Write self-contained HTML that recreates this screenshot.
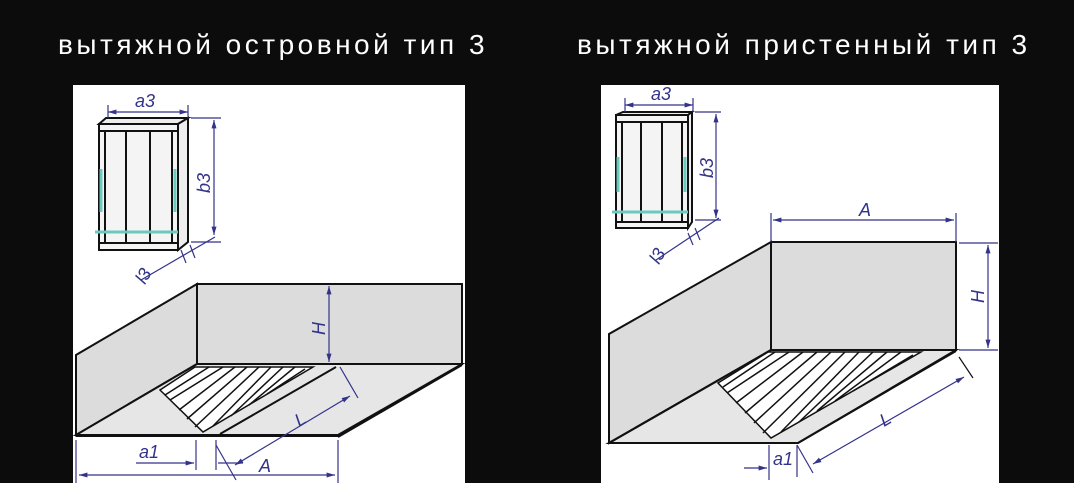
<!DOCTYPE html>
<html><head><meta charset="utf-8"><style>
body{margin:0;width:1074px;height:483px;background:#0c0c0c;overflow:hidden;position:relative;font-family:"Liberation Sans",sans-serif}
.t{position:absolute;top:29px;color:#fff;font-size:28px;letter-spacing:3.5px;white-space:nowrap}
svg{position:absolute;background:#fff}
.k{stroke:#111;fill:none;stroke-width:2}
.f{fill:#dcdcdc;stroke:#111;stroke-width:2}
.b{stroke:#33338a;fill:none;stroke-width:1.2}
.bt{fill:#33338a;font-family:"Liberation Sans",sans-serif;font-style:italic;font-size:18px}
.c{stroke:#6cc9c0;stroke-width:3;fill:none}
</style></head><body>
<div class="t" style="left:58px">вытяжной островной тип 3</div>
<div class="t" style="left:577px">вытяжной пристенный тип 3</div>

<svg style="left:73px;top:85px" width="392" height="398" viewBox="0 0 392 398">
<defs><marker id="a" viewBox="0 0 10 10" refX="10" refY="5" markerWidth="7" markerHeight="7" orient="auto-start-reverse"><path d="M0,2L10,5L0,8z" fill="#33338a"/></marker></defs>
<polygon class="f" points="26,39 33,33 115,33 105,39" style="fill:#eee"/>
<polygon class="f" points="105,39 115,33 115,157 105,165" style="fill:#eee"/>
<rect class="k" x="26" y="39" width="79" height="126" style="fill:#f4f4f4"/>
<line class="k" x1="26" y1="46" x2="105" y2="46"/><line class="k" x1="26" y1="158" x2="105" y2="158"/>
<g class="k" stroke-width="3"><line x1="32" y1="46" x2="32" y2="158"/><line x1="53" y1="46" x2="53" y2="158"/><line x1="77" y1="46" x2="77" y2="158"/><line x1="99" y1="46" x2="99" y2="158"/></g>
<line class="c" x1="22" y1="147" x2="105" y2="147" stroke-width="4"/>
<line class="c" x1="28" y1="84" x2="28" y2="127"/><line class="c" x1="102" y1="84" x2="102" y2="127"/>
<line class="b" x1="35" y1="27" x2="115" y2="27" marker-start="url(#a)" marker-end="url(#a)"/>
<line class="b" x1="35" y1="20" x2="35" y2="33"/><line class="b" x1="115" y1="20" x2="115" y2="33"/>
<text class="bt" x="62" y="22">a3</text>
<line class="b" x1="118" y1="33" x2="148" y2="33"/><line class="b" x1="118" y1="157" x2="148" y2="157"/>
<line class="b" x1="141" y1="35" x2="141" y2="150" marker-start="url(#a)" marker-end="url(#a)"/>
<text class="bt" transform="translate(137,108) rotate(-90)">b3</text>
<line class="b" x1="68" y1="195" x2="142" y2="152"/><line class="b" x1="108" y1="165" x2="113" y2="178"/><line class="b" x1="117" y1="160" x2="122" y2="173"/>
<text class="bt" transform="translate(72,200) rotate(-60)">l3</text>
<polygon class="f" points="124,199 389,199 389,279 124,279"/>
<polygon class="f" points="124,199 3,270 3,350 124,279"/>
<polygon class="f" points="124,279 389,279 265,350 3,350" style="fill:#e6e6e6"/>
<line class="k" x1="389" y1="280" x2="265" y2="352" stroke-width="3"/>
<line class="k" x1="3" y1="351" x2="265" y2="351" stroke-width="3"/>
<polygon points="122,282 240,282 130,347 87,305" fill="#fff" stroke="#111" stroke-width="1.5"/>
<g stroke="#111" stroke-width="1.5">
<line x1="97" y1="315" x2="150" y2="282"/><line x1="106" y1="325" x2="162" y2="282"/><line x1="114" y1="334" x2="174" y2="282"/>
<line x1="122" y1="342" x2="186" y2="282"/><line x1="140" y1="341" x2="198" y2="282"/><line x1="158" y1="331" x2="210" y2="282"/>
<line x1="176" y1="320" x2="222" y2="282"/><line x1="194" y1="309" x2="232" y2="284"/><line x1="136" y1="282" x2="92" y2="310"/></g>
<line class="k" x1="263" y1="282" x2="147" y2="349"/>
<line class="b" x1="256" y1="201" x2="256" y2="277" marker-start="url(#a)" marker-end="url(#a)"/>
<text class="bt" transform="translate(252,250) rotate(-90)">H</text>
<line class="b" x1="162" y1="380" x2="277" y2="311" marker-start="url(#a)" marker-end="url(#a)"/>
<line class="b" x1="267" y1="282" x2="285" y2="313" stroke="#111"/>
<text class="bt" transform="translate(226,342) rotate(-30)">L</text>
<line class="b" x1="3" y1="355" x2="3" y2="398"/><line class="b" x1="123" y1="355" x2="123" y2="385"/><line class="b" x1="143" y1="355" x2="143" y2="385"/><line class="b" x1="265" y1="355" x2="265" y2="398"/>
<line class="b" x1="143" y1="360" x2="163" y2="395"/>
<line class="b" x1="63" y1="378" x2="121" y2="378" marker-end="url(#a)"/><line class="b" x1="145" y1="378" x2="170" y2="378"/>
<line class="b" x1="6" y1="390" x2="262" y2="390" marker-start="url(#a)" marker-end="url(#a)"/>
<text class="bt" x="66" y="373">a1</text><text class="bt" x="186" y="387">A</text>
</svg>

<svg style="left:601px;top:85px" width="398" height="398" viewBox="0 0 398 398">
<defs><marker id="b" viewBox="0 0 10 10" refX="10" refY="5" markerWidth="7" markerHeight="7" orient="auto-start-reverse"><path d="M0,2L10,5L0,8z" fill="#33338a"/></marker></defs>
<polygon class="f" points="15,30 22,27 91,27 87,30" style="fill:#eee"/>
<polygon class="f" points="87,30 91,27 91,137 87,143" style="fill:#eee"/>
<rect class="k" x="15" y="30" width="72" height="113" style="fill:#f4f4f4"/>
<line class="k" x1="15" y1="37" x2="87" y2="37"/><line class="k" x1="15" y1="137" x2="87" y2="137"/>
<g class="k" stroke-width="3"><line x1="21" y1="37" x2="21" y2="137"/><line x1="40" y1="37" x2="40" y2="137"/><line x1="61" y1="37" x2="61" y2="137"/><line x1="81" y1="37" x2="81" y2="137"/></g>
<line class="c" x1="11" y1="127" x2="87" y2="127" stroke-width="4"/>
<line class="c" x1="17" y1="72" x2="17" y2="107"/><line class="c" x1="84" y1="72" x2="84" y2="107"/>
<line class="b" x1="24" y1="20" x2="92" y2="20" marker-start="url(#b)" marker-end="url(#b)"/>
<line class="b" x1="24" y1="13" x2="24" y2="27"/><line class="b" x1="92" y1="13" x2="92" y2="27"/>
<text class="bt" x="50" y="15">a3</text>
<line class="b" x1="94" y1="27" x2="120" y2="27"/><line class="b" x1="94" y1="135" x2="120" y2="135"/>
<line class="b" x1="115" y1="29" x2="115" y2="133" marker-start="url(#b)" marker-end="url(#b)"/>
<text class="bt" transform="translate(112,93) rotate(-90)">b3</text>
<line class="b" x1="55" y1="175" x2="118" y2="133"/><line class="b" x1="87" y1="148" x2="92" y2="160"/><line class="b" x1="94" y1="143" x2="99" y2="155"/>
<text class="bt" transform="translate(58,180) rotate(-60)">l3</text>
<polygon class="f" points="170,157 355,157 355,265 170,265"/>
<polygon class="f" points="170,157 8,249 8,358 170,265"/>
<polygon class="f" points="170,265 355,265 197,358 8,358" style="fill:#e6e6e6"/>
<line class="k" x1="355" y1="266" x2="197" y2="358" stroke-width="2.5"/>
<line class="k" x1="8" y1="358" x2="197" y2="358" stroke-width="3"/>
<polygon points="167,267 320,267 170,353 117,298" fill="#fff" stroke="#111" stroke-width="1.5"/>
<g stroke="#111" stroke-width="1.5">
<line x1="126" y1="308" x2="188" y2="267"/><line x1="135" y1="318" x2="202" y2="267"/><line x1="144" y1="328" x2="216" y2="267"/>
<line x1="153" y1="338" x2="230" y2="267"/><line x1="162" y1="348" x2="244" y2="267"/><line x1="180" y1="347" x2="258" y2="267"/>
<line x1="198" y1="337" x2="272" y2="267"/><line x1="216" y1="326" x2="286" y2="267"/><line x1="234" y1="316" x2="300" y2="267"/><line x1="252" y1="306" x2="312" y2="270"/><line x1="174" y1="267" x2="122" y2="302"/></g>
<line class="k" x1="170" y1="265" x2="8" y2="358"/>
<line class="b" x1="170" y1="128" x2="170" y2="157"/><line class="b" x1="355" y1="128" x2="355" y2="157"/>
<line class="b" x1="172" y1="135" x2="353" y2="135" marker-start="url(#b)" marker-end="url(#b)"/>
<text class="bt" x="258" y="131">A</text>
<line class="b" x1="358" y1="158" x2="397" y2="158"/><line class="b" x1="358" y1="265" x2="397" y2="265"/>
<line class="b" x1="387" y1="160" x2="387" y2="263" marker-start="url(#b)" marker-end="url(#b)"/>
<text class="bt" transform="translate(383,218) rotate(-90)">H</text>
<line class="b" x1="212" y1="379" x2="363" y2="292" marker-start="url(#b)" marker-end="url(#b)"/>
<line x1="358" y1="272" x2="372" y2="293" stroke="#111" stroke-width="1.2"/>
<text class="bt" transform="translate(283,342) rotate(-30)">L</text>
<line class="b" x1="168" y1="360" x2="168" y2="395"/><line class="b" x1="196" y1="360" x2="196" y2="392"/>
<line class="b" x1="196" y1="360" x2="212" y2="388"/>
<line class="b" x1="143" y1="383" x2="166" y2="383" marker-end="url(#b)"/>
<text class="bt" x="172" y="380">a1</text>
</svg>
</body></html>
